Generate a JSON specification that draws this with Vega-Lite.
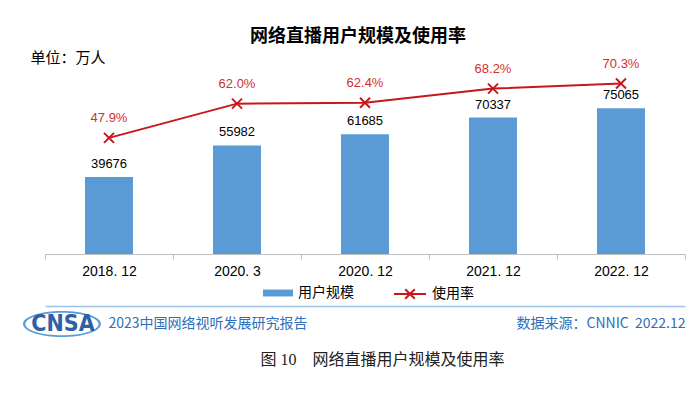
{
  "$schema": "https://vega.github.io/schema/vega-lite/v6.json",
  "width": 640,
  "height": 194,
  "autosize": {"type": "none"},
  "padding": {"left": 45, "top": 60, "right": 15, "bottom": 139},
  "background": "white",
  "config": {"view": {"stroke": null}, "font": "Liberation Sans, Noto Sans CJK SC"},
  "title": {
    "text": "网络直播用户规模及使用率",
    "font": "Noto Sans CJK SC",
    "fontSize": 18,
    "fontWeight": "bold",
    "color": "#000000",
    "anchor": "middle",
    "offset": 4,
    "dx": -7
  },
  "data": {
    "values": [
      {"period": "2018. 12", "users": 39676, "rate": 0.479},
      {"period": "2020. 3", "users": 55982, "rate": 0.620},
      {"period": "2020. 12", "users": 61685, "rate": 0.624},
      {"period": "2021. 12", "users": 70337, "rate": 0.682},
      {"period": "2022. 12", "users": 75065, "rate": 0.703}
    ]
  },
  "layer": [
    {
      "encoding": {
        "x": {
          "field": "period",
          "type": "nominal",
          "sort": null,
          "scale": {"paddingInner": 0, "paddingOuter": 0},
          "axis": {
            "orient": "bottom",
            "labelAngle": 0,
            "labelFontSize": 14,
            "labelColor": "#000000",
            "labelFont": "Liberation Sans",
            "labelPadding": 5,
            "tickBand": "extent",
            "tickSize": 5,
            "tickColor": "#BFBFBF",
            "domainColor": "#BFBFBF",
            "grid": false,
            "title": "图 10\u3000网络直播用户规模及使用率",
            "titleFont": "Liberation Serif, Noto Sans CJK SC",
            "titleFontSize": 16,
            "titleFontWeight": "normal",
            "titleColor": "#222222",
            "titleX": 337,
            "titleY": 105,
            "titleAlign": "center",
            "titleBaseline": "middle"
          }
        },
        "y": {
          "field": "users",
          "type": "quantitative",
          "scale": {"domain": [0, 100000]},
          "axis": {
            "orient": "left",
            "domain": false,
            "ticks": false,
            "labels": false,
            "grid": false,
            "title": "单位：万人",
            "titleFont": "Noto Sans CJK SC",
            "titleAngle": 0,
            "titleX": -15,
            "titleY": -3,
            "titleAlign": "left",
            "titleBaseline": "middle",
            "titleFontSize": 15,
            "titleFontWeight": "normal",
            "titleColor": "#000000"
          }
        }
      },
      "layer": [
        {
          "mark": {"type": "bar", "width": {"band": 0.375}},
          "encoding": {
            "fill": {
              "datum": "用户规模",
              "scale": {"range": ["#5B9BD5"]},
              "legend": {
                "orient": "none",
                "legendX": 218,
                "legendY": 218,
                "title": null,
                "symbolType": "M-1,-0.23H1V0.23H-1Z",
                "symbolSize": 900,
                "symbolStrokeWidth": 0,
                "labelFont": "Noto Sans CJK SC",
                "labelFontSize": 14,
                "labelColor": "#000000",
                "labelOffset": 5
              }
            },
            "opacity": {
              "datum": "CNSA",
              "scale": {"range": [1]},
              "legend": {
                "orient": "none",
                "legendX": -23,
                "legendY": 224,
                "title": null,
                "symbolType": "M-1,0A1,0.333,0,1,1,1,0A1,0.333,0,1,1,-1,0ZM-0.94,0A0.94,0.29,0,1,0,0.94,0A0.94,0.29,0,1,0,-0.94,0Z",
                "symbolSize": 6084,
                "symbolStrokeColor": "#2E5FA8",
                "symbolStrokeWidth": 1.2,
                "labelFont": "DejaVu Sans Condensed, DejaVu Sans",
                "labelFontSize": 23,
                "labelFontWeight": "bold",
                "labelColor": "#2E5FA8",
                "labelOffset": -39,
                "labelAlign": "center"
              }
            }
          }
        },
        {
          "mark": {"type": "text", "dy": -13, "fontSize": 13, "color": "#000000", "font": "Liberation Sans"},
          "encoding": {"text": {"field": "users", "type": "quantitative", "format": "d"}}
        }
      ]
    },
    {
      "encoding": {
        "x": {
          "field": "period",
          "type": "nominal",
          "sort": null,
          "scale": {"paddingInner": 0, "paddingOuter": 0},
          "axis": {
            "orient": "top",
            "offset": -246,
            "labels": false,
            "ticks": false,
            "grid": false,
            "domain": true,
            "domainColor": "#9DC3E6",
            "domainWidth": 1.5,
            "title": "2023中国网络视听发展研究报告",
            "titleFont": "Noto Sans CJK SC",
            "titleX": 63,
            "titleY": 17,
            "titleAlign": "left",
            "titleBaseline": "middle",
            "titleFontSize": 14,
            "titleFontWeight": "normal",
            "titleColor": "#2F6EBA"
          }
        },
        "y": {
          "field": "rate",
          "type": "quantitative",
          "scale": {"domain": [0, 0.8]},
          "axis": {
            "orient": "right",
            "domain": false,
            "ticks": false,
            "labels": false,
            "grid": false,
            "title": "数据来源：CNNIC \u00A02022.12",
            "titleFont": "Noto Sans CJK SC",
            "titleAngle": 0,
            "titleX": 0,
            "titleY": 263,
            "titleAlign": "right",
            "titleBaseline": "middle",
            "titleFontSize": 14,
            "titleFontWeight": "normal",
            "titleColor": "#2F6EBA"
          }
        }
      },
      "layer": [
        {
          "mark": {"type": "line", "strokeWidth": 2},
          "encoding": {
            "stroke": {
              "datum": "使用率",
              "scale": {"range": ["#C8161D"]},
              "legend": {
                "orient": "none",
                "legendX": 348,
                "legendY": 217,
                "title": null,
                "symbolType": "M-1,0H1M-0.3,-0.3L0.3,0.3M-0.3,0.3L0.3,-0.3",
                "symbolSize": 1024,
                "symbolStrokeWidth": 2,
                "symbolFillColor": "transparent",
                "labelFont": "Noto Sans CJK SC",
                "labelFontSize": 14,
                "labelColor": "#000000",
                "labelOffset": 5
              }
            }
          }
        },
        {
          "mark": {"type": "point", "shape": "M-1,-1L1,1M-1,1L1,-1", "filled": false, "size": 100, "strokeWidth": 2, "color": "#C8161D", "opacity": 1}
        },
        {
          "mark": {"type": "text", "dy": -20, "fontSize": 13, "color": "#D0312D", "font": "Liberation Sans"},
          "encoding": {"text": {"field": "rate", "type": "quantitative", "format": ".1%"}}
        }
      ]
    }
  ],
  "resolve": {"scale": {"y": "independent"}, "axis": {"x": "independent"}}
}
